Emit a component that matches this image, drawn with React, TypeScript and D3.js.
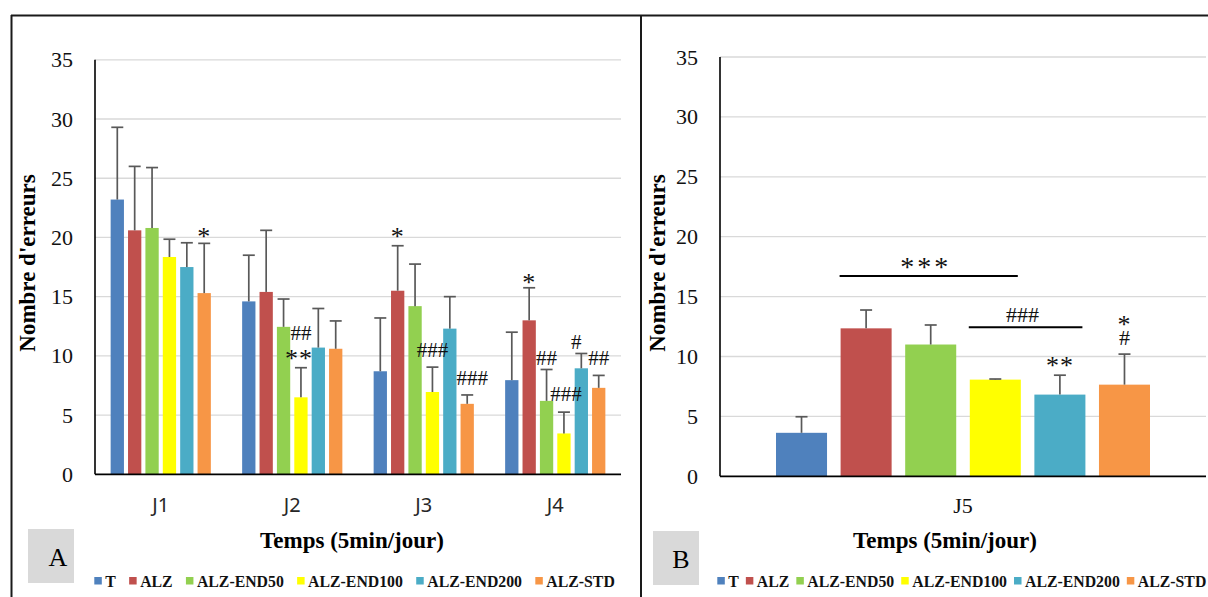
import React, { useEffect, useRef } from "react";
import * as d3 from "d3";

// ---------- DATA ----------
const seriesNames = ["T", "ALZ", "ALZ-END50", "ALZ-END100", "ALZ-END200", "ALZ-STD"];
const seriesColors = ["#4f81bd", "#c0504d", "#92d050", "#ffff00", "#4bacc6", "#f79646"];

const daysA = ["J1", "J2", "J3", "J4"];
const meanT = [23.2, 14.6, 8.7, 7.95];
const meanALZ = [20.6, 15.4, 15.5, 13.0];
const meanEND50 = [20.8, 12.45, 14.2, 6.2];
const meanEND100 = [18.35, 6.5, 6.95, 3.45];
const meanEND200 = [17.5, 10.7, 12.3, 8.95];
const meanSTD = [15.3, 10.6, 5.95, 7.3];

const errT = [6.1, 3.9, 4.5, 4.05];
const errALZ = [5.4, 5.2, 3.8, 2.75];
const errEND50 = [5.1, 2.35, 3.55, 2.65];
const errEND100 = [1.5, 2.5, 2.1, 1.8];
const errEND200 = [2.05, 3.3, 2.7, 1.25];
const errSTD = [4.2, 2.35, 0.75, 1.05];

const daysB = ["J5"];
const meanJ5 = [3.63, 12.35, 11.0, 8.07, 6.82, 7.65];
const errJ5 = [1.34, 1.53, 1.63, 0.05, 1.62, 2.55];

const yTicks = [0, 5, 10, 15, 20, 25, 30, 35];

// significance marks, panel A (y = baseline of the text, in data units)
const marksA = [
  { day: "J1", s: "ALZ-STD", text: "*", y: 19.6, dx: 0 },
  { day: "J2", s: "ALZ-END100", text: "##", y: 11.35, dx: 0 },
  { day: "J2", s: "ALZ-END100", text: "**", y: 9.3, dx: -2 },
  { day: "J3", s: "ALZ", text: "*", y: 19.6, dx: 0 },
  { day: "J3", s: "ALZ-END100", text: "###", y: 9.9, dx: 0 },
  { day: "J3", s: "ALZ-STD", text: "###", y: 7.5, dx: 5 },
  { day: "J4", s: "ALZ", text: "*", y: 15.7, dx: 0 },
  { day: "J4", s: "ALZ-END50", text: "##", y: 9.2, dx: 0 },
  { day: "J4", s: "ALZ-END100", text: "###", y: 6.2, dx: 2 },
  { day: "J4", s: "ALZ-END200", text: "#", y: 10.55, dx: -5 },
  { day: "J4", s: "ALZ-STD", text: "##", y: 9.2, dx: 0 },
];
// panel B
const bracketsB = [
  { from: "ALZ", to: "ALZ-END100", y: 16.72, text: "***", textY: 17.05 },
  { from: "ALZ-END100", to: "ALZ-END200", y: 12.44, text: "###", textY: 12.85 },
];
const marksB = [
  { s: "ALZ-END200", lines: ["**"], y: 8.8 },
  { s: "ALZ-STD", lines: ["*", "#"], y: 12.25 },
];

const SERIF = "'Liberation Serif', 'Times New Roman', serif";
const SANS = "'Noto Sans', 'Open Sans', sans-serif";

export default function App() {
  const ref = useRef<SVGSVGElement | null>(null);

  useEffect(() => {
    const svg = d3.select(ref.current);
    svg.selectAll("*").remove();

    const meansA = [meanT, meanALZ, meanEND50, meanEND100, meanEND200, meanSTD];
    const errsA = [errT, errALZ, errEND50, errEND100, errEND200, errSTD];

    const isStar = (t: string) => t.indexOf("*") >= 0;

    function drawPanel(opts: any) {
      const g = svg.append("g");
      const { x0, x1, yTop, yBot, days, getMean, getErr, inner } = opts;
      const y = d3.scaleLinear().domain([0, 35]).range([yBot, yTop]);
      const xb = d3.scaleBand().domain(days).range([x0, x1]).padding(0);
      const xs = d3
        .scaleBand()
        .domain(seriesNames)
        .range([0, xb.bandwidth()])
        .paddingInner(inner.pi)
        .paddingOuter(inner.po);

      g.selectAll("line.grid")
        .data(yTicks.filter((t) => t > 0))
        .join("line")
        .attr("x1", x0)
        .attr("x2", x1)
        .attr("y1", (d) => y(d))
        .attr("y2", (d) => y(d))
        .attr("stroke", "#d9d9d9")
        .attr("stroke-width", 1.3);

      g.selectAll("text.tick")
        .data(yTicks)
        .join("text")
        .attr("x", x0 - 22)
        .attr("y", (d) => y(d) + 7.5)
        .attr("text-anchor", "end")
        .attr("font-family", SERIF)
        .attr("font-size", 22)
        .attr("fill", "#111")
        .text((d) => d);

      days.forEach((day: string, di: number) => {
        seriesNames.forEach((s, si) => {
          const m = getMean(si, di);
          const e = getErr(si, di);
          const bx = (xb(day) as number) + (xs(s) as number);
          const bw = xs.bandwidth();
          g.append("rect")
            .attr("x", bx)
            .attr("y", y(m))
            .attr("width", bw)
            .attr("height", y(0) - y(m))
            .attr("fill", seriesColors[si]);
          const cx = bx + bw / 2;
          g.append("line")
            .attr("x1", cx)
            .attr("x2", cx)
            .attr("y1", y(m))
            .attr("y2", y(m + e))
            .attr("stroke", "#595959")
            .attr("stroke-width", 1.7);
          g.append("line")
            .attr("x1", cx - 6)
            .attr("x2", cx + 6)
            .attr("y1", y(m + e))
            .attr("y2", y(m + e))
            .attr("stroke", "#595959")
            .attr("stroke-width", 1.7);
        });
      });

      g.append("line")
        .attr("x1", x0)
        .attr("x2", x0)
        .attr("y1", y(35))
        .attr("y2", y(0))
        .attr("stroke", "#000")
        .attr("stroke-width", 1.6);
      g.append("line")
        .attr("x1", x0)
        .attr("x2", x1)
        .attr("y1", y(0))
        .attr("y2", y(0))
        .attr("stroke", "#000")
        .attr("stroke-width", 1.8);

      return { y, xb, xs };
    }

    // ---------- Panel A ----------
    const A = drawPanel({
      x0: 95,
      x1: 621,
      yTop: 59.8,
      yBot: 474.3,
      days: daysA,
      getMean: (si: number, di: number) => meansA[si][di],
      getErr: (si: number, di: number) => errsA[si][di],
      inner: { pi: 0.235, po: 0.9 },
    });

    svg
      .selectAll("text.catA")
      .data(daysA)
      .join("text")
      .attr("x", (d) => (A.xb(d) as number) + A.xb.bandwidth() / 2)
      .attr("y", 512)
      .attr("text-anchor", "middle")
      .attr("font-family", SANS)
      .attr("font-size", 20)
      .attr("fill", "#262626")
      .text((d) => d);

    marksA.forEach((mk) => {
      const cx =
        (A.xb(mk.day) as number) + (A.xs(mk.s) as number) + A.xs.bandwidth() / 2 + mk.dx;
      const star = isStar(mk.text);
      svg
        .append("text")
        .attr("x", cx)
        .attr("y", A.y(mk.y) + (star ? 3 : 0))
        .attr("text-anchor", "middle")
        .attr("font-family", SERIF)
        .attr("font-size", star ? 26 : 21)
        .attr("letter-spacing", star ? 1 : 0)
        .attr("fill", "#111")
        .text(mk.text);
    });

    // ---------- Panel B ----------
    const B = drawPanel({
      x0: 720,
      x1: 1206,
      yTop: 57,
      yBot: 476.3,
      days: daysB,
      getMean: (si: number) => meanJ5[si],
      getErr: (si: number) => errJ5[si],
      inner: { pi: 0.21, po: 0.867 },
    });

    svg
      .append("text")
      .attr("x", (B.xb("J5") as number) + B.xb.bandwidth() / 2)
      .attr("y", 513)
      .attr("text-anchor", "middle")
      .attr("font-family", SERIF)
      .attr("font-size", 22)
      .attr("fill", "#111")
      .text(daysB[0]);

    const barLeft = (s: string) => (B.xb("J5") as number) + (B.xs(s) as number);
    const barRight = (s: string) => barLeft(s) + B.xs.bandwidth();
    bracketsB.forEach((br) => {
      const xa = barLeft(br.from) - 1;
      const xz = barRight(br.to) - 3;
      const star = isStar(br.text);
      svg
        .append("line")
        .attr("x1", xa)
        .attr("x2", xz)
        .attr("y1", B.y(br.y))
        .attr("y2", B.y(br.y))
        .attr("stroke", "#000")
        .attr("stroke-width", 1.8);
      svg
        .append("text")
        .attr("x", (xa + xz) / 2 - 3)
        .attr("y", B.y(br.textY) + (star ? 3.5 : 0))
        .attr("text-anchor", "middle")
        .attr("font-family", SERIF)
        .attr("font-size", star ? 28 : 22)
        .attr("letter-spacing", star ? 3 : 0)
        .attr("fill", "#111")
        .text(br.text);
    });
    marksB.forEach((mk) => {
      const cx = barLeft(mk.s) + B.xs.bandwidth() / 2;
      const t = svg
        .append("text")
        .attr("text-anchor", "middle")
        .attr("font-family", SERIF)
        .attr("fill", "#111");
      let yy = B.y(mk.y);
      mk.lines.forEach((ln, i) => {
        const star = isStar(ln);
        if (i > 0) yy += 15.5;
        t.append("tspan")
          .attr("x", cx)
          .attr("y", yy + (star ? 3 : 0))
          .attr("font-size", star ? 26 : 22)
          .attr("letter-spacing", star ? 1 : 0)
          .text(ln);
      });
    });

    // ---------- titles ----------
    const yTitles = [
      { x: 35, y: 263 },
      { x: 665, y: 263 },
    ];
    yTitles.forEach((t) => {
      svg
        .append("text")
        .attr("transform", `translate(${t.x},${t.y}) rotate(-90)`)
        .attr("text-anchor", "middle")
        .attr("font-family", SERIF)
        .attr("font-weight", "bold")
        .attr("font-size", 23)
        .attr("fill", "#000")
        .text("Nombre d'erreurs");
    });
    [352, 945].forEach((cx) => {
      svg
        .append("text")
        .attr("x", cx)
        .attr("y", 548)
        .attr("text-anchor", "middle")
        .attr("font-family", SERIF)
        .attr("font-weight", "bold")
        .attr("font-size", 23)
        .attr("fill", "#000")
        .text("Temps (5min/jour)");
    });

    const letters = [
      { l: "A", x: 28, w: 46, y: 529, h: 54, tx: 58 },
      { l: "B", x: 653, w: 46, y: 531, h: 54, tx: 681 },
    ];
    letters.forEach((p) => {
      svg
        .append("rect")
        .attr("x", p.x)
        .attr("y", p.y)
        .attr("width", p.w)
        .attr("height", p.h)
        .attr("fill", "#d9d9d9");
      svg
        .append("text")
        .attr("x", p.tx)
        .attr("y", p.y + 37)
        .attr("text-anchor", "middle")
        .attr("font-family", SERIF)
        .attr("font-size", 26)
        .attr("fill", "#000")
        .text(p.l);
    });

    function legend(x0: number, gap: number) {
      let x = x0;
      seriesNames.forEach((s, i) => {
        svg
          .append("rect")
          .attr("x", x)
          .attr("y", 577)
          .attr("width", 7.5)
          .attr("height", 7.5)
          .attr("fill", seriesColors[i]);
        const t = svg
          .append("text")
          .attr("x", x + 11)
          .attr("y", 586.5)
          .attr("font-family", SERIF)
          .attr("font-weight", "bold")
          .attr("font-size", 15.8)
          .attr("fill", "#111")
          .text(s);
        const w = (t.node() as SVGTextElement).getComputedTextLength();
        x = x + 11 + w + gap;
      });
    }
    legend(94.3, 13.3);
    legend(717.3, 7);

    const frame = svg.append("g").attr("stroke", "#1a1a1a").attr("stroke-width", 2).attr("fill", "none");
    frame.append("line").attr("x1", 11).attr("x2", 1208).attr("y1", 15.5).attr("y2", 15.5);
    frame.append("line").attr("x1", 11.5).attr("x2", 11.5).attr("y1", 15).attr("y2", 597);
    frame.append("line").attr("x1", 641).attr("x2", 641).attr("y1", 15).attr("y2", 597);
  }, []);

  return (
    <svg
      ref={ref}
      width={1208}
      height={597}
      style={{ position: "fixed", left: 0, top: 0, background: "#fff" }}
    />
  );
}
